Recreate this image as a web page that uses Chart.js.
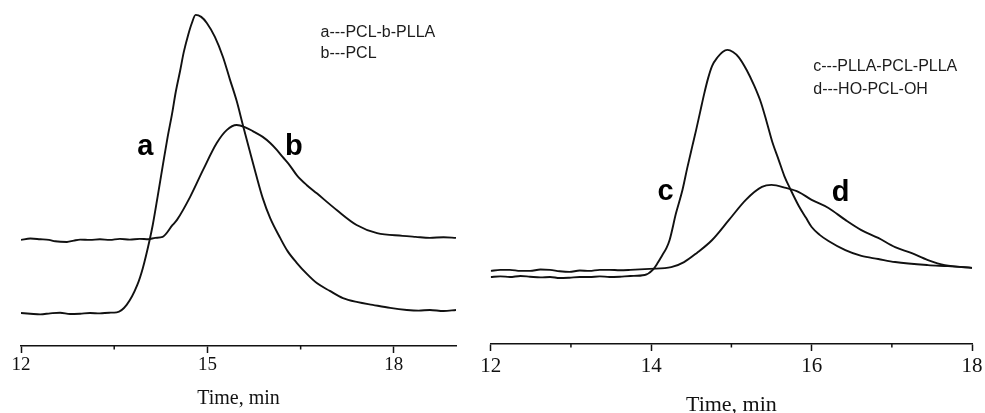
<!DOCTYPE html>
<html>
<head>
<meta charset="utf-8">
<script src="https://cdn.jsdelivr.net/npm/chart.js@4.4.1/dist/chart.umd.min.js"></script>
<style>
  html, body { margin: 0; padding: 0; background: #fff; overflow: hidden; width: 985px; height: 413px; }
  canvas { position: absolute; top: 0; }
  #gpcLeft { left: 0; }
  #gpcRight { left: 470px; }
</style>
</head>
<body>
<canvas id="gpcLeft" width="470" height="413"></canvas>
<canvas id="gpcRight" width="515" height="413"></canvas>
<script>
// GPC traces: elution time (min) vs. detector response (relative units)

// a --- PCL-b-PLLA
const timeA = [12.00, 12.15, 12.31, 12.47, 12.63, 12.79, 12.95, 13.11, 13.27, 13.42, 13.54, 13.70, 13.87, 13.96, 14.07,
  14.12, 14.20, 14.28, 14.36, 14.43, 14.49, 14.56, 14.62, 14.69, 14.75, 14.81, 14.90, 14.99, 15.12, 15.25, 15.36,
  15.47, 15.57, 15.68, 15.78, 15.89, 16.01, 16.17, 16.29, 16.44, 16.60, 16.76, 16.97, 17.18, 17.42, 17.66,
  17.94, 18.21, 18.40, 18.58, 18.80, 19.00];
const respA = [9.7, 9.5, 9.3, 9.6, 9.8, 9.4, 9.5, 9.7, 9.6, 9.8, 9.9, 12.1, 17.9, 22.9, 31.2,
  35.6, 44.1, 52.9, 61.5, 68.2, 74.7, 80.9, 86.5, 91.5, 95.0, 97.4, 96.8, 95.0, 90.9, 85.0, 78.5,
  72.1, 65.0, 57.4, 50.6, 43.5, 37.6, 31.8, 27.9, 24.4, 21.2, 18.5, 16.2, 14.1, 12.9, 12.1,
  11.2, 10.6, 10.4, 10.6, 10.3, 10.6];

// b --- PCL
const timeB = [12.00, 12.15, 12.31, 12.45, 12.55, 12.74, 12.85, 12.95, 13.11, 13.27, 13.43, 13.59, 13.75, 13.91, 14.05,
  14.16, 14.28, 14.44, 14.51, 14.72, 14.93, 15.15, 15.31, 15.47, 15.60, 15.73, 15.89, 16.01, 16.12, 16.21, 16.33,
  16.44, 16.60, 16.76, 17.08, 17.40, 17.73, 18.14, 18.35, 18.58, 18.80, 19.00];
const respB = [31.2, 31.6, 31.4, 31.2, 30.8, 30.6, 31.0, 31.3, 31.2, 31.4, 31.2, 31.5, 31.3, 31.5, 31.4,
  31.8, 32.1, 35.6, 37.1, 43.8, 51.8, 59.7, 63.5, 65.0, 64.4, 63.2, 61.5, 59.7, 57.6, 55.6, 53.0,
  50.2, 47.3, 44.9, 40.0, 35.6, 33.2, 32.4, 32.1, 31.8, 32.0, 31.8];

// c --- PLLA-PCL-PLLA
const timeC = [12.00, 12.12, 12.24, 12.37, 12.49, 12.62, 12.74, 12.86, 12.98, 13.11, 13.23, 13.36, 13.48, 13.61, 13.74,
  13.92, 14.02, 14.08, 14.14, 14.19, 14.23, 14.31, 14.39, 14.45, 14.51, 14.56, 14.61, 14.66, 14.71, 14.76,
  14.83, 14.89, 14.95, 15.02, 15.09, 15.19, 15.28, 15.37, 15.44, 15.51, 15.59, 15.66, 15.74, 15.84, 15.93,
  16.00, 16.10, 16.21, 16.42, 16.62, 16.83, 17.04, 17.45, 17.70, 18.00];
const respC = [19.7, 19.9, 19.7, 20.0, 19.8, 19.6, 19.7, 19.4, 19.5, 19.7, 19.7, 19.9, 19.7, 19.8, 20.0,
  20.3, 21.8, 23.8, 26.2, 28.2, 30.6, 38.5, 45.3, 51.8, 57.9, 62.9, 68.2, 73.5, 78.2, 81.8,
  84.4, 85.9, 86.5, 85.9, 84.4, 80.6, 76.2, 70.9, 65.3, 59.4, 54.1, 49.4, 45.3, 40.6, 37.1,
  34.4, 32.1, 30.3, 27.6, 25.9, 25.0, 24.1, 23.2, 22.9, 22.4];

// d --- HO-PCL-OH
const timeD = [12.00, 12.12, 12.24, 12.37, 12.49, 12.62, 12.74, 12.86, 12.98, 13.11, 13.23, 13.36, 13.48, 13.61, 13.74,
  13.98, 14.25, 14.41, 14.57, 14.76, 14.97, 15.18, 15.38, 15.50, 15.68, 15.84, 16.00, 16.21, 16.42, 16.62,
  16.83, 17.04, 17.24, 17.45, 17.66, 18.00];
const respD = [21.5, 21.8, 21.8, 21.5, 21.5, 21.9, 21.8, 21.4, 21.2, 21.6, 21.5, 21.8, 21.8, 21.7, 21.8,
  22.1, 22.6, 24.1, 26.8, 30.6, 36.5, 42.4, 46.2, 46.8, 45.9, 44.7, 42.4, 40.0, 36.5, 33.5,
  31.2, 28.5, 26.8, 24.7, 23.2, 22.4];

// x-axis tick values
const leftMajorTicks = [12, 15, 18];
const leftMinorTicks = [13.5, 16.5];
const rightMajorTicks = [12, 14, 16, 18];
const rightMinorTicks = [13, 15, 17];

const axisTitle = 'Time, min';
const leftLegend = ['a---PCL-b-PLLA', 'b---PCL'];
const rightLegend = ['c---PLLA-PCL-PLLA', 'd---HO-PCL-OH'];

const INK = '#111111';
const SERIF = '"Liberation Serif", "Times New Roman", serif';
const SANS = '"Liberation Sans", Arial, sans-serif';

// Curve letters and legend lines, anchored in data coordinates (time, response)
function notesPlugin(cfg) {
  return {
    id: 'notes',
    afterDraw(chart) {
      const { ctx, scales: { x, y } } = chart;
      ctx.save();
      // shorter minor tick marks
      ctx.strokeStyle = INK;
      ctx.lineWidth = 1.5;
      cfg.minor.forEach(v => {
        const px = x.getPixelForValue(v);
        ctx.beginPath();
        ctx.moveTo(px, y.bottom);
        ctx.lineTo(px, y.bottom + 3.5);
        ctx.stroke();
      });
      ctx.textAlign = 'left';
      ctx.textBaseline = 'alphabetic';
      ctx.fillStyle = '#000';
      ctx.font = 'bold 29px ' + SANS;
      cfg.letters.forEach(l => ctx.fillText(l.text, x.getPixelForValue(l.t), y.getPixelForValue(l.r)));
      ctx.fillStyle = '#1c1c1c';
      ctx.font = cfg.legendSize + 'px ' + SANS;
      cfg.legend.forEach((txt, i) => ctx.fillText(txt, x.getPixelForValue(cfg.legendAt.t), y.getPixelForValue(cfg.legendAt.r[i])));
      ctx.restore();
    }
  };
}

function gpcChart(id, cfg) {
  const all = cfg.major.concat(cfg.minor).sort((a, b) => a - b);
  return new Chart(document.getElementById(id), {
    type: 'line',
    data: {
      datasets: cfg.series.map(s => ({
        data: s.t.map((t, i) => ({ x: t, y: s.r[i] })),
        borderColor: INK,
        borderWidth: 1.9,
        pointRadius: 0,
        cubicInterpolationMode: 'monotone',
        fill: false
      }))
    },
    options: {
      responsive: false,
      animation: false,
      devicePixelRatio: 1,
      layout: { padding: cfg.padding },
      plugins: { legend: { display: false }, tooltip: { enabled: false } },
      scales: {
        x: {
          type: 'linear',
          min: cfg.min,
          max: cfg.max,
          afterBuildTicks: sc => { sc.ticks = all.map(v => ({ value: v })); },
          ticks: {
            autoSkip: false,
            maxRotation: 0,
            padding: cfg.tickPad,
            color: INK,
            font: { family: SERIF, size: cfg.tickSize },
            callback: v => cfg.major.includes(v) ? String(v) : ''
          },
          grid: {
            drawOnChartArea: false,
            tickLength: 7,
            tickWidth: 1.5,
            tickColor: c => (c.tick && cfg.major.includes(c.tick.value)) ? INK : 'rgba(0,0,0,0)'
          },
          border: { color: INK, width: 1.5 },
          title: {
            display: true,
            text: axisTitle,
            color: INK,
            font: { family: SERIF, size: cfg.titleSize, lineHeight: cfg.titleLH },
            padding: { top: cfg.titlePad, bottom: 0 }
          }
        },
        y: { display: false, min: 0, max: 100 }
      }
    },
    plugins: [notesPlugin(cfg)]
  });
}

gpcChart('gpcLeft', {
  series: [{ t: timeA, r: respA }, { t: timeB, r: respB }],
  min: 12, max: 19,
  major: leftMajorTicks, minor: leftMinorTicks,
  padding: { left: 21, right: 14, top: 6, bottom: 4 },
  tickPad: 1, tickSize: 19, titleSize: 20, titleLH: 1, titlePad: 11.2,
  letters: [{ text: 'a', t: 13.87, r: 56.2 }, { text: 'b', t: 16.25, r: 56.2 }],
  legend: leftLegend, legendSize: 16, legendAt: { t: 16.82, r: [90.9, 84.8] }
});

gpcChart('gpcRight', {
  series: [{ t: timeC, r: respC }, { t: timeD, r: respD }],
  min: 12, max: 18,
  major: rightMajorTicks, minor: rightMinorTicks,
  padding: { left: 20.7, right: 11.7, top: 4, bottom: 1.4 },
  tickPad: 2.4, tickSize: 21, titleSize: 22, titleLH: 0.6, titlePad: 17.4,
  letters: [{ text: 'c', t: 14.08, r: 42.4 }, { text: 'd', t: 16.25, r: 42.1 }],
  legend: rightLegend, legendSize: 16, legendAt: { t: 16.02, r: [80.4, 73.5] }
});
</script>
</body>
</html>
